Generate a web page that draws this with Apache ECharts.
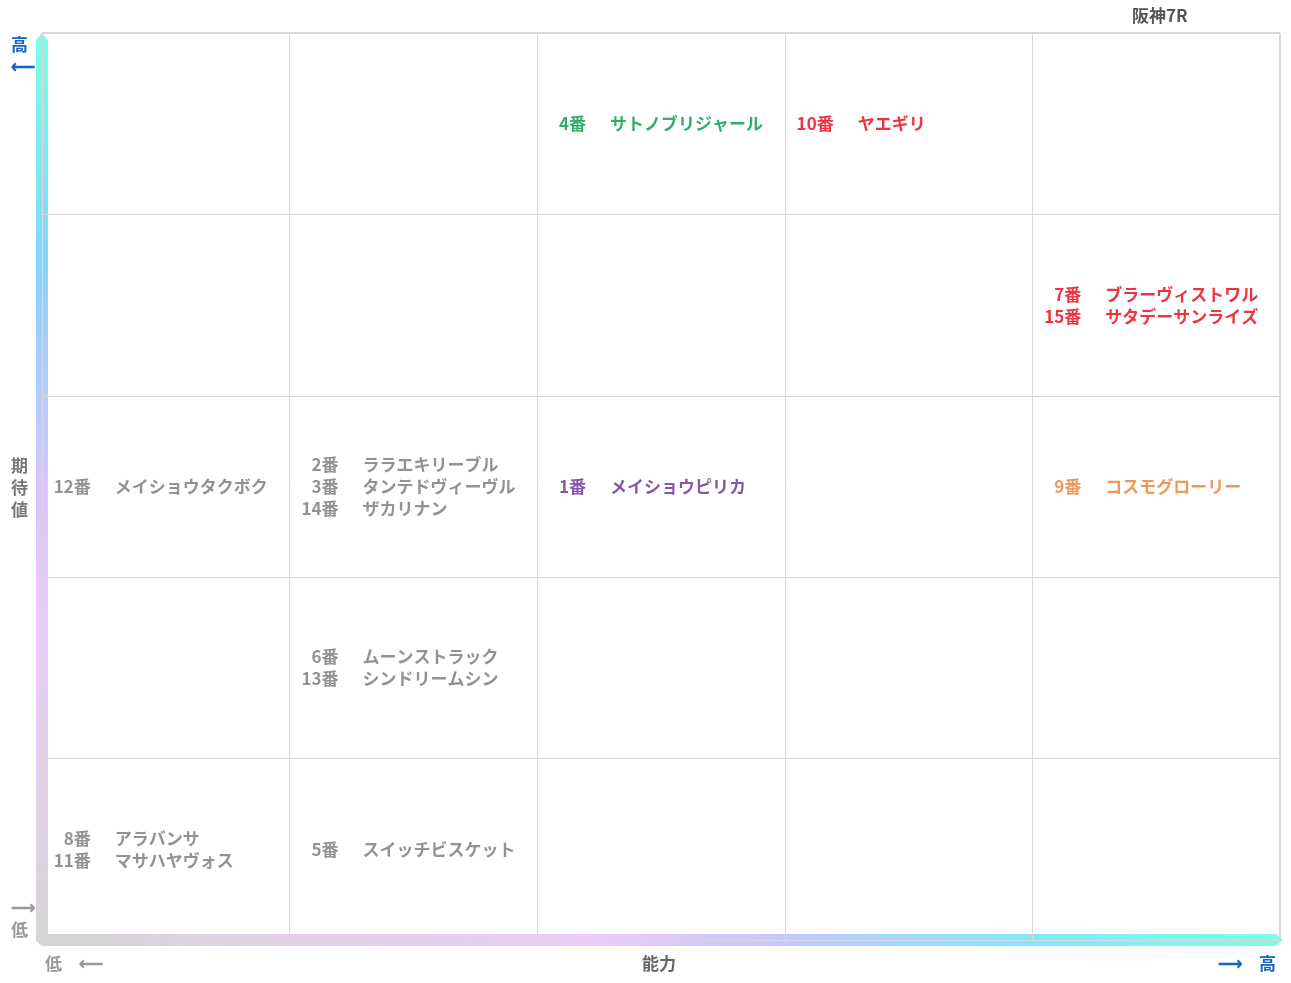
<!DOCTYPE html>
<html>
<head>
<meta charset="utf-8">
<script src="https://cdn.jsdelivr.net/npm/echarts@6/dist/echarts.min.js"></script>
<style>html,body,#main{width:100%;height:100%;margin:0;background:#fff;}</style>
</head>
<body>
<div id="main"></div>
<script>
var xCats = ['1', '2', '3', '4', '5'];
var yCats = ['1', '2', '3', '4', '5'];
// [xIndex, yIndex, color, [[number, name], ...]]
var cells = [
    [2, 4, '#009944', [['4番', 'サトノブリジャール']]],
    [3, 4, '#e60012', [['10番', 'ヤエギリ']]],
    [4, 3, '#e60012', [['7番', 'ブラーヴィストワル'], ['15番', 'サタデーサンライズ']]],
    [0, 2, '#777777', [['12番', 'メイショウタクボク']]],
    [1, 2, '#777777', [['2番', 'ララエキリーブル'], ['3番', 'タンテドヴィーヴル'], ['14番', 'ザカリナン']]],
    [2, 2, '#662d91', [['1番', 'メイショウピリカ']]],
    [4, 2, '#ed7d31', [['9番', 'コスモグローリー']]],
    [1, 1, '#777777', [['6番', 'ムーンストラック'], ['13番', 'シンドリームシン']]],
    [0, 0, '#777777', [['8番', 'アラバンサ'], ['11番', 'マサハヤヴォス']]],
    [1, 0, '#777777', [['5番', 'スイッチビスケット']]]
];

var font = '"Noto Sans CJK JP", sans-serif';
var data = cells.map(function (c) {
    return {
        value: [c[0], c[1]],
        label: {
            formatter: c[3].map(function (r) {
                var num = r[0].length < 3 ? '\u2007' + r[0] : r[0];
                return '{n|' + num + '}{g|}{h|' + r[1] + '}';
            }).join('\n'),
            rich: {
                n: { color: c[2], fontSize: 17, fontWeight: 'bold', fontFamily: font, lineHeight: 22 },
                g: { width: 24 },
                h: { color: c[2], fontSize: 17, fontWeight: 'bold', fontFamily: font, lineHeight: 22, letterSpacing: 1 }
            }
        }
    };
});

var chart = echarts.init(document.getElementById('main'));
var vGrad = new echarts.graphic.LinearGradient(0, 0, 0, 1, [
    { offset: 0, color: '#7dffe2' }, { offset: 0.25, color: '#7fd8ff' },
    { offset: 0.5, color: '#d9c4ff' }, { offset: 0.65, color: '#efc8ff' }, { offset: 1, color: '#d6d6d6' }]);
var hGrad = new echarts.graphic.LinearGradient(0, 0, 1, 0, [
    { offset: 0, color: '#d6d6d6' }, { offset: 0.45, color: '#efc8ff' },
    { offset: 0.6, color: '#c4c8ff' }, { offset: 0.8, color: '#7fe8ff' }, { offset: 1, color: '#7dffe2' }]);
var lbl = function (x, y, text, color) {
    return { type: 'text', left: x, top: y, style: { text: text, fill: color, font: 'bold 17px ' + font, lineHeight: 22 } };
};
chart.setOption({
    animation: false,
    title: { text: '阪神7R', left: 1127, top: 2, textStyle: { color: '#555', fontSize: 17, fontWeight: 'bold', fontFamily: font } },
    grid: { left: 42, right: 11, top: 33, bottom: 43 },
    xAxis: { type: 'category', data: xCats, boundaryGap: true, axisLine: { show: false }, axisTick: { show: false }, axisLabel: { show: false },
        splitLine: { show: true, interval: 0, lineStyle: { color: '#d8d8d8' } } },
    yAxis: { type: 'category', data: yCats, boundaryGap: true, axisLine: { show: false }, axisTick: { show: false }, axisLabel: { show: false },
        splitLine: { show: true, interval: 0, lineStyle: { color: '#d8d8d8' } } },
    series: [{
        type: 'scatter', symbolSize: 0, data: data,
        label: { show: true, position: 'inside', align: 'left', verticalAlign: 'middle', offset: [-112, 0] }
    }],
    graphic: [
        { type: 'rect', left: 1279, top: 33, shape: { width: 1, height: 907 }, style: { fill: '#d8d8d8' } },
        { type: 'rect', left: 42, top: 32, shape: { width: 1238, height: 1 }, style: { fill: '#d8d8d8' } },
        { type: 'polygon', shape: { points: [[36, 40], [42, 33], [48, 40], [48, 934], [36, 941]] }, style: { fill: vGrad } },
        { type: 'polygon', shape: { points: [[36, 941], [48, 934], [1276, 934], [1283, 940], [1276, 946], [42, 946]] }, style: { fill: hGrad } },
        lbl(11, 34, '高\n⟵', '#1565c0'),
        lbl(11, 455, '期\n待\n値', '#777'),
        lbl(11, 897, '⟶\n低', '#999'),
        lbl(45, 953, '低　⟵', '#999'),
        lbl(642, 953, '能力', '#666'),
        lbl(1218, 953, '⟶　高', '#1565c0')
    ]
});
</script>
</body>
</html>
